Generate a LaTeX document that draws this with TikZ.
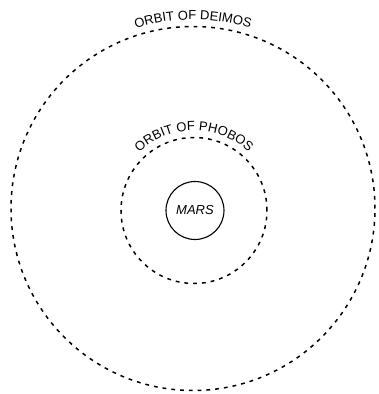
\documentclass[tikz,border=0pt]{standalone}
\usepackage{fontspec}
\setsansfont{Liberation Sans}
\usetikzlibrary{decorations.text}
\tikzset{
  orbit/.style={line width=1.5pt, dash pattern=on 3.8pt off 5pt},
  orbitlabel/.style={decorate, decoration={text along path, text align=center,
      text={|\sffamily\fontsize{13}{15}\selectfont|#1}}}
}
\begin{document}
\begin{tikzpicture}[x=1pt,y=1pt]
  \useasboundingbox (-195,-183.5) rectangle (183,210.5);
  % Mars
  \node[circle, draw, line width=1.1pt, minimum size=58pt, inner sep=0pt,
    font=\sffamily\itshape\fontsize{13}{15}\selectfont] (mars) at (0,0) {MARS};
  % Orbit of Phobos
  \draw[orbit] (-1,0) circle (73);
  \path[orbitlabel={ORBIT OF PHOBOS}] (-1,0) ++(150:80) arc[start angle=150, end angle=30, radius=80];
  % Orbit of Deimos
  \draw[orbit] (-2,2) circle (182);
  \path[orbitlabel={ORBIT OF DEIMOS}] (-2,2) ++(120:189) arc[start angle=120, end angle=60, radius=189];
\end{tikzpicture}
\end{document}
